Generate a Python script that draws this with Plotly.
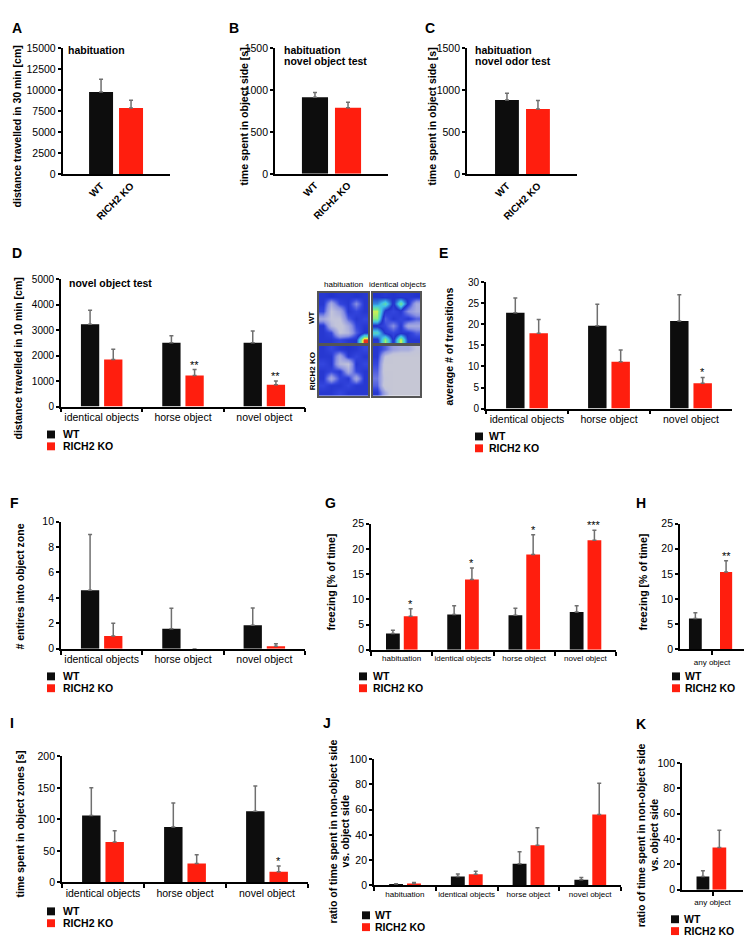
import plotly.graph_objects as go

W, H = 745, 945
RED = '#ff1e0e'
BLACK = '#0d0d0d'
ERRC = '#6f6f6f'
FONT = 'Liberation Sans, Arial, sans-serif'

# ---------------- data ----------------
genotypes = ["WT", "RICH2 KO"]

A_mean = [9800, 7900]
A_sem = [1500, 900]

B_mean = [915, 790]
B_sem = [55, 65]

C_mean = [885, 778]
C_sem = [80, 100]

cats3 = ["identical objects", "horse object", "novel object"]
cats4 = ["habituation", "identical objects", "horse object", "novel object"]
cats1 = ["any object"]

D_wt = [3230, 2500, 2500]
D_wt_sem = [550, 280, 470]
D_ko = [1850, 1220, 860]
D_ko_sem = [400, 230, 140]
D_stars = ["", "**", "**"]

E_wt = [22.8, 19.7, 20.8]
E_wt_sem = [3.5, 5.1, 6.3]
E_ko = [17.9, 11.1, 6.0]
E_ko_sem = [3.3, 2.8, 1.4]
E_stars = ["", "", "*"]

F_wt = [4.6, 1.58, 1.84]
F_wt_sem = [4.4, 1.6, 1.36]
F_ko = [1.0, 0.0, 0.2]
F_ko_sem = [1.0, 0.0, 0.2]

G_wt = [3.2, 7.0, 6.85, 7.5]
G_wt_sem = [0.65, 1.7, 1.35, 1.2]
G_ko = [6.66, 13.9, 18.9, 21.7]
G_ko_sem = [1.45, 2.3, 3.9, 2.0]
G_stars = ["*", "*", "*", "***"]

H_wt = [6.16]
H_wt_sem = [1.15]
H_ko = [15.4]
H_ko_sem = [2.2]
H_stars = ["**"]

I_wt = [106, 88, 113]
I_wt_sem = [44, 38, 40]
I_ko = [64, 30, 17]
I_ko_sem = [18, 14, 9]
I_stars = ["", "", "*"]

J_wt = [1.0, 7.0, 17.2, 4.5]
J_wt_sem = [0.3, 2.1, 9.4, 1.8]
J_ko = [1.5, 8.9, 31.8, 56.0]
J_ko_sem = [0.8, 2.3, 13.8, 24.8]

K_wt = [10.4]
K_wt_sem = [4.6]
K_ko = [33.3]
K_ko_sem = [13.5]

# occupancy heat maps (hand-read, coarse)
heat_wt_hab = [
    [0.60, 0.62, 0.60, 0.60, 0.62, 0.60],
    [0.60, 0.30, 0.55, 0.60, 0.40, 0.60],
    [0.55, 0.20, 0.30, 0.60, 0.55, 0.60],
    [0.30, 0.20, 0.20, 0.50, 0.60, 0.55],
    [0.60, 0.25, 0.15, 0.30, 0.55, 0.60],
    [0.60, 0.55, 0.20, 0.25, 0.50, 0.62],
    [0.60, 0.60, 0.55, 0.60, 0.62, 1.00],
]
heat_wt_ident = [
    [0.62, 0.60, 0.62, 0.60, 0.60, 0.62],
    [0.70, 0.82, 0.60, 0.86, 0.60, 0.30],
    [0.90, 0.60, 0.55, 0.60, 0.40, 0.30],
    [0.86, 0.50, 0.60, 0.55, 0.60, 0.50],
    [0.60, 0.55, 0.40, 0.60, 0.30, 0.30],
    [0.80, 0.60, 0.55, 0.60, 0.60, 0.50],
    [0.60, 0.88, 0.60, 0.92, 0.60, 0.60],
]
heat_ko_hab = [
    [0.60, 0.55, 0.60, 0.62, 0.60, 0.55],
    [0.60, 0.60, 0.30, 0.60, 0.55, 0.60],
    [0.55, 0.60, 0.25, 0.20, 0.60, 0.55],
    [0.60, 0.55, 0.60, 0.30, 0.55, 0.60],
    [0.60, 0.30, 0.55, 0.60, 0.30, 0.60],
    [0.55, 0.60, 0.60, 0.55, 0.60, 0.60],
    [0.60, 0.60, 0.55, 0.60, 0.60, 0.60],
]
heat_ko_ident = [
    [0.60, 0.50, 0.35, 0.30, 0.30, 0.20],
    [0.60, 0.20, 0.10, 0.10, 0.10, 0.10],
    [0.55, 0.10, 0.10, 0.10, 0.10, 0.10],
    [0.50, 0.10, 0.10, 0.10, 0.10, 0.10],
    [0.45, 0.15, 0.10, 0.10, 0.10, 0.10],
    [0.50, 0.10, 0.10, 0.10, 0.10, 0.10],
    [0.60, 0.30, 0.10, 0.10, 0.10, 0.10],
]

# ---------------- helpers ----------------
def xdom(a, b):
    return [a / W, b / W]


def ydom(top, bot):
    return [1 - bot / H, 1 - top / H]


fig = go.Figure()
layout = dict(
    width=W, height=H, margin=dict(l=0, r=0, t=0, b=0),
    paper_bgcolor='white', plot_bgcolor='white', showlegend=False,
    barmode='overlay', font=dict(family=FONT, color='black'),
)
annotations = []
shapes = []


def ann(text, x, y, size, bold=False, angle=0, xanchor='center', yanchor='middle'):
    annotations.append(dict(
        text=text, x=x / W, y=1 - y / H, xref='paper', yref='paper', showarrow=False,
        font=dict(size=size, family=FONT, color='black', weight='bold' if bold else 'normal'),
        textangle=angle, xanchor=xanchor, yanchor=yanchor,
    ))


def axes(n, xd, yd, xrange, yrange, dtick, cats, tfs, cfs, rotated=False, tickson='boundaries'):
    sx = '' if n == 1 else str(n)
    layout['xaxis' + sx] = dict(
        domain=xd, anchor='y' + sx, type='category', categoryorder='array',
        categoryarray=cats, range=xrange, showline=True, linewidth=1.8, linecolor='black',
        showgrid=False, zeroline=False, fixedrange=True,
        ticks='' if rotated else 'outside', ticklen=4, tickwidth=1.5, tickcolor='black',
        tickson=tickson if not rotated else 'labels',
        tickangle=-45 if rotated else 0,
        tickfont=dict(size=cfs, family=FONT, color='black', weight='bold' if rotated else 'normal'),
    )
    layout['yaxis' + sx] = dict(
        domain=yd, anchor='x' + sx, range=yrange, dtick=dtick, tickformat='d',
        showline=True, linewidth=1.8,
        linecolor='black', showgrid=False, zeroline=False, fixedrange=True,
        ticks='outside', ticklen=3, tickwidth=1.5, tickcolor='black',
        tickfont=dict(size=tfs, family=FONT, color='black'),
    )
    return 'x' + sx, 'y' + sx


def errs(sem):
    return dict(type='data', array=sem, arrayminus=[0] * len(sem), symmetric=False,
                color=ERRC, thickness=1.5, width=2)


def single_pair(n, mean, sem, xd, yd, xrange, yrange, dtick, width):
    xa, ya = axes(n, xd, yd, xrange, yrange, dtick, genotypes, 10.5, 10, rotated=True)
    for g, m, s, c in zip(genotypes, mean, sem, [BLACK, RED]):
        fig.add_trace(go.Bar(x=[g], y=[m], width=width, marker=dict(color=c, line=dict(width=0)),
                             error_y=errs([s]), xaxis=xa, yaxis=ya, name=g))


def grouped(n, cats, wt, wts, ko, kos, xd, yd, yrange, dtick, tfs, cfs,
            wt_off=-0.255, wt_w=0.225, ko_off=0.03, ko_w=0.225, stars=None, tickson='boundaries'):
    nc = len(cats)
    xa, ya = axes(n, xd, yd, [-0.5, nc - 0.5], yrange, dtick, cats, tfs, cfs, tickson=tickson)
    fig.add_trace(go.Bar(x=cats, y=wt, width=wt_w, offset=wt_off,
                         marker=dict(color=BLACK, line=dict(width=0)), error_y=errs(wts),
                         xaxis=xa, yaxis=ya, name='WT'))
    fig.add_trace(go.Bar(x=cats, y=ko, width=ko_w, offset=ko_off,
                         marker=dict(color=RED, line=dict(width=0)), error_y=errs(kos),
                         xaxis=xa, yaxis=ya, name='RICH2 KO'))
    if stars:
        for i, s in enumerate(stars):
            if s:
                annotations.append(dict(
                    text=s, x=i + ko_off + ko_w / 2, y=ko[i] + kos[i], xref=xa, yref=ya,
                    showarrow=False, yanchor='bottom', yshift=-3,
                    font=dict(size=11, family=FONT, color='black')))


def legend_box(xsq, ytop, xtext, dy=12):
    for k, (lab, col) in enumerate([("WT", BLACK), ("RICH2 KO", RED)]):
        yc = ytop + k * dy
        shapes.append(dict(type='rect', xref='paper', yref='paper',
                           x0=xsq / W, x1=(xsq + 8) / W, y0=1 - (yc + 4) / H, y1=1 - (yc - 4) / H,
                           fillcolor=col, line=dict(width=0)))
        ann(lab, xtext, yc, 10.5, bold=True, xanchor='left')


# ---------------- panels A-C ----------------
single_pair(1, A_mean, A_sem, xdom(62.7, 170), ydom(42.7, 170.5), [-1.28, 2.3], [0, 15000], 2500, 0.8)
single_pair(2, B_mean, B_sem, xdom(275, 388), ydom(42.7, 170), [-1.21, 2.21], [0, 1500], 500, 0.79)
single_pair(3, C_mean, C_sem, xdom(467, 577), ydom(42.7, 170.5), [-1.29, 2.26], [0, 1500], 500, 0.77)

ann("A", 17, 22, 14, bold=True)
ann("B", 234, 22, 14, bold=True)
ann("C", 430, 22, 14, bold=True)
ann("habituation", 66, 45, 10.5, bold=True, xanchor='left')
ann("habituation", 282, 45, 10.5, bold=True, xanchor='left')
ann("novel object test", 282, 56, 10.5, bold=True, xanchor='left')
ann("habituation", 473, 45, 10.5, bold=True, xanchor='left')
ann("novel odor test", 473, 56, 10.5, bold=True, xanchor='left')
ann("distance travelled in 30 min [cm]", 17, 122, 10.5, bold=True, angle=-90)
ann("time spent in object side [s]", 244, 112, 10.5, bold=True, angle=-90)
ann("time spent in object side [s]", 432, 112, 10.5, bold=True, angle=-90)

# ---------------- panel D ----------------
grouped(4, cats3, D_wt, D_wt_sem, D_ko, D_ko_sem, xdom(61, 305), ydom(276.7, 405.7),
        [0, 5000], 1000, 10, 10.5, stars=D_stars)
ann("D", 17, 250, 14, bold=True)
ann("novel object test", 67, 281, 10.5, bold=True, xanchor='left')
ann("distance travelled in 10 min [cm]", 18, 357, 10.5, bold=True, angle=-90)
legend_box(47, 434, 61)

# heat maps
cscale = [[0.0, '#c9c9cf'], [0.2, '#c2c4da'], [0.4, '#8a92e2'], [0.55, '#3446de'],
          [0.62, '#2233cc'], [0.75, '#40c0e8'], [0.85, '#70e890'], [0.92, '#f0f040'],
          [1.0, '#e83020']]
heat_boxes = [
    (12, heat_wt_hab, 319, 368, 290.7, 341.7),
    (13, heat_wt_ident, 373, 420, 290.7, 341.7),
    (14, heat_ko_hab, 319, 368, 344, 395),
    (15, heat_ko_ident, 373, 420, 344, 395),
]
for n, z, x0, x1, y0, y1 in heat_boxes:
    sx = str(n)
    layout['xaxis' + sx] = dict(domain=xdom(x0, x1), anchor='y' + sx, showticklabels=False,
                                showgrid=False, zeroline=False, showline=True, mirror=True,
                                linecolor='#555555', linewidth=2, ticks='', fixedrange=True)
    layout['yaxis' + sx] = dict(domain=ydom(y0, y1), anchor='x' + sx, showticklabels=False,
                                showgrid=False, zeroline=False, showline=True, mirror=True,
                                linecolor='#555555', linewidth=2, ticks='', autorange='reversed',
                                fixedrange=True)
    fig.add_trace(go.Heatmap(z=z, colorscale=cscale, zmin=0, zmax=1, zsmooth='best',
                             showscale=False, xaxis='x' + sx, yaxis='y' + sx, hoverinfo='skip'))
ann("habituation", 343, 282, 8)
ann("identical objects", 397, 282, 8)
ann("WT", 312, 316, 8, bold=True, angle=-90)
ann("RICH2 KO", 312, 370, 8, bold=True, angle=-90)

# ---------------- panel E ----------------
grouped(5, cats3, E_wt, E_wt_sem, E_ko, E_ko_sem, xdom(486, 732), ydom(280, 407.7),
        [0, 30], 5, 10, 10.5, stars=E_stars)
ann("E", 443.5, 250, 14, bold=True)
ann("average # of transitions", 449, 345, 10.5, bold=True, angle=-90)
legend_box(475, 436, 487)

# ---------------- panel F ----------------
grouped(6, cats3, F_wt, F_wt_sem, F_ko, F_ko_sem, xdom(61, 305), ydom(522.3, 651),
        [0, 10], 2, 10.5, 10.5)
ann("F", 15, 503, 14, bold=True)
ann("# entires into object zone", 20, 588, 10.5, bold=True, angle=-90)
legend_box(47, 679, 61)

# ---------------- panel G ----------------
grouped(7, cats4, G_wt, G_wt_sem, G_ko, G_ko_sem, xdom(371, 616), ydom(524.3, 652),
        [0, 25], 5, 10.5, 8, ko_off=0.035, stars=G_stars)
ann("G", 330, 503, 14, bold=True)
ann("freezing [% of time]", 331, 584, 10.5, bold=True, angle=-90)
legend_box(359, 679, 371)

# ---------------- panel H ----------------
grouped(8, cats1, H_wt, H_wt_sem, H_ko, H_ko_sem, xdom(680, 744), ydom(524.3, 651.7),
        [0, 25], 5, 10.5, 8, wt_off=-0.36, wt_w=0.2, ko_off=0.125, ko_w=0.19,
        stars=H_stars, tickson='labels')
ann("H", 641, 503, 14, bold=True)
ann("freezing [% of time]", 643, 584, 10.5, bold=True, angle=-90)
legend_box(672, 679, 683)

# ---------------- panel I ----------------
grouped(9, cats3, I_wt, I_wt_sem, I_ko, I_ko_sem, xdom(62, 308), ydom(760, 887.7),
        [0, 200], 50, 10.5, 10.5, stars=I_stars)
ann("I", 12, 726.5, 14, bold=True)
ann("time spent in object zones [s]", 20, 829, 10.5, bold=True, angle=-90)
legend_box(47, 917, 61)

# ---------------- panel J ----------------
grouped(10, cats4, J_wt, J_wt_sem, J_ko, J_ko_sem, xdom(374, 621), ydom(762.7, 890.7),
        [0, 100], 20, 10.5, 8, ko_off=0.035)
ann("J", 327, 726, 14, bold=True)
ann("ratio of time spent in non-object side", 333, 836, 10.5, bold=True, angle=-90)
ann("vs. object side", 345, 836, 10.5, bold=True, angle=-90)
legend_box(362, 921, 373)

# ---------------- panel K ----------------
grouped(11, cats1, K_wt, K_wt_sem, K_ko, K_ko_sem, xdom(682, 743), ydom(766.7, 895),
        [0, 100], 20, 10.5, 8, wt_off=-0.262, wt_w=0.21, ko_off=0.0, ko_w=0.225,
        tickson='labels')
ann("K", 641, 727, 14, bold=True)
ann("ratio of time spent in non-object side", 641, 840, 10.5, bold=True, angle=-90)
ann("vs. object side", 654, 840, 10.5, bold=True, angle=-90)
legend_box(671, 925, 682)

layout['annotations'] = annotations
layout['shapes'] = shapes
fig.update_layout(**layout)
fig.write_html(
    "out.html",
    config={'displayModeBar': False},
    post_script="document.body.style.margin='0';document.body.style.padding='0';"
                "document.body.style.overflow='hidden';",
)
